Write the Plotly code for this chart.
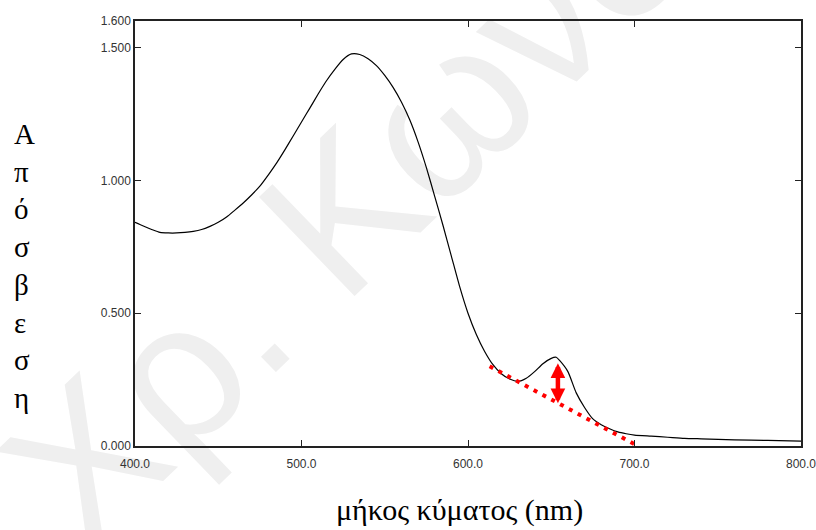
import plotly.graph_objects as go

# ---- data ----
wavelength = [400, 405, 410, 415, 420, 425, 430, 435, 440, 445, 450, 455, 460, 465, 470,
              475, 480, 485, 490, 495, 500, 505, 510, 515, 520, 525, 530, 535, 540, 545,
              550, 555, 560, 565, 570, 575, 580, 585, 590, 595, 600, 605, 610, 615, 620,
              625, 630, 635, 640, 645, 650, 653, 655, 660, 665, 670, 675, 680, 685, 690,
              695, 700, 710, 720, 730, 740, 760, 780, 800]
absorbance = [0.842, 0.828, 0.815, 0.804, 0.802, 0.802, 0.804, 0.808, 0.815, 0.827, 0.842,
              0.862, 0.888, 0.915, 0.945, 0.978, 1.020, 1.065, 1.115, 1.167, 1.220, 1.272,
              1.325, 1.375, 1.418, 1.455, 1.476, 1.474, 1.458, 1.432, 1.395, 1.350, 1.295,
              1.228, 1.145, 1.048, 0.940, 0.830, 0.715, 0.600, 0.500, 0.420, 0.356, 0.306,
              0.272, 0.252, 0.243, 0.255, 0.280, 0.310, 0.330, 0.334, 0.322, 0.280, 0.200,
              0.145, 0.102, 0.080, 0.065, 0.053, 0.046, 0.041, 0.037, 0.033, 0.029, 0.027,
              0.023, 0.021, 0.018]

baseline_x = [613, 702]
baseline_y = [0.30, 0.0]

arrow_x = 654
arrow_y = [0.161, 0.317]

x_ticks = [400, 500, 600, 700, 800]
x_ticktext = ["400.0", "500.0", "600.0", "700.0", "800.0"]
y_ticks = [0, 0.5, 1.0, 1.5, 1.6]
y_ticktext = ["0.000", "0.500", "1.000", "1.500", "1.600"]

x_title = "μήκος κύματος (nm)"
y_title = "Απόσβεση"
watermark = "Χρ. Κωνσ"

# ---- layout geometry ----
W, H = 816, 530
ML, MR, MT, MB = 135, 15, 21, 84
PW, PH = W - ML - MR, H - MT - MB


def px2paper(px, py):
    return (px - ML) / PW, (H - MB - py) / PH


fig = go.Figure()

fig.add_trace(go.Scatter(
    x=wavelength, y=absorbance, mode="lines",
    line=dict(color="#000000", width=1.2, shape="spline", smoothing=0.6),
    hoverinfo="skip", showlegend=False))

fig.add_trace(go.Scatter(
    x=baseline_x, y=baseline_y, mode="lines",
    line=dict(color="#ff0000", width=4, dash="4px,6px"),
    hoverinfo="skip", showlegend=False))

fig.add_annotation(
    x=arrow_x, y=arrow_y[0], ax=arrow_x, ay=arrow_y[1],
    xref="x", yref="y", axref="x", ayref="y", text="",
    showarrow=True, arrowside="end+start",
    arrowhead=2, startarrowhead=2, arrowsize=0.65, startarrowsize=0.65,
    arrowwidth=4.5, arrowcolor="#ff0000", standoff=0, startstandoff=0)

# watermark (behind the traces)
cx, cy = px2paper(336, 191)
fig.add_shape(
    type="rect", xref="paper", yref="paper",
    x0=cx - 0.005, x1=cx + 0.005, y0=cy - 0.005, y1=cy + 0.005,
    line=dict(width=0), fillcolor="rgba(0,0,0,0)", layer="below",
    label=dict(text=watermark, textangle=-44, textposition="middle center",
               font=dict(size=200, color="#efefef", family="Liberation Sans")))

# y-axis title: letters stacked vertically
lx, ly = px2paper(12, 266)
fig.add_annotation(
    x=lx, y=ly, xref="paper", yref="paper", xanchor="left", yanchor="middle",
    text="<br>".join(list(y_title)), showarrow=False, align="left",
    font=dict(family="Liberation Serif", size=29, color="#000000"))

tx, ty = px2paper(459, 510)
fig.add_annotation(
    x=tx, y=ty, xref="paper", yref="paper", xanchor="center", yanchor="middle",
    text=x_title, showarrow=False,
    font=dict(family="Liberation Serif", size=30, color="#000000"))

axis_common = dict(
    showline=True, linecolor="#222222", linewidth=1.5, mirror="ticks",
    ticks="inside", ticklen=6, tickwidth=1.2, tickcolor="#222222",
    showgrid=False, zeroline=False, ticklabeloverflow="allow", automargin=False,
    tickfont=dict(family="Liberation Sans", size=12, color="#333333"))

fig.update_xaxes(range=[400, 800], tickvals=x_ticks, ticktext=x_ticktext,
                 ticklabelstandoff=6, **axis_common)
fig.update_yaxes(range=[0, 1.6], tickvals=y_ticks, ticktext=y_ticktext,
                 **axis_common)

fig.update_layout(
    width=W, height=H, margin=dict(l=ML, r=MR, t=MT, b=MB, autoexpand=False),
    paper_bgcolor="#ffffff", plot_bgcolor="#ffffff", showlegend=False)

fig.write_html("out.html")
